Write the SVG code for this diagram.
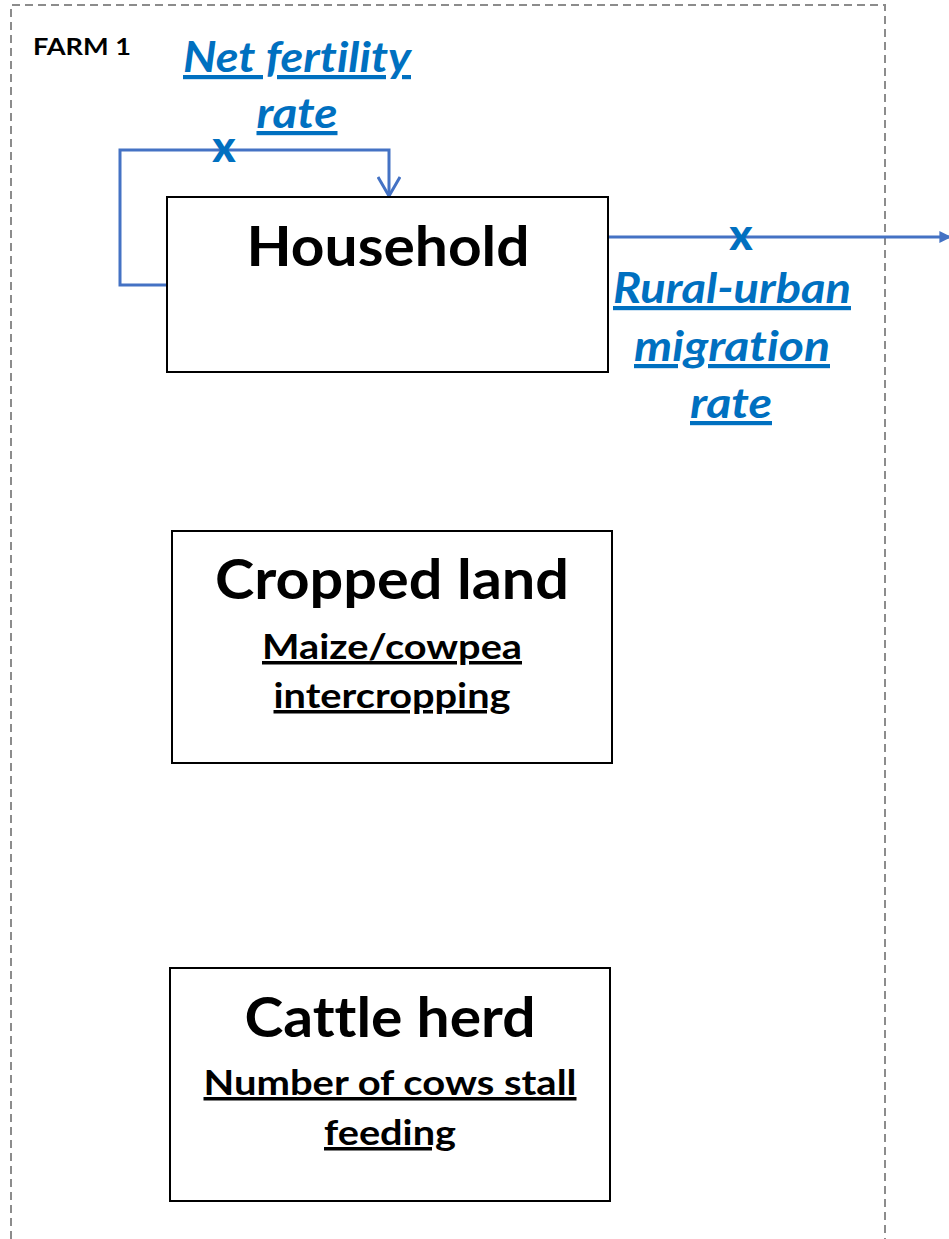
<svg xmlns="http://www.w3.org/2000/svg" width="949" height="1239" viewBox="0 0 949 1239">
<defs>
<style>
text{font-family:Lato,"Open Sans","Liberation Sans",sans-serif;font-weight:bold;font-variant-ligatures:none;font-feature-settings:"liga" 0}
.box{fill:#fff;stroke:#000;stroke-width:2}
.title{fill:#000;text-anchor:middle;font-size:56px}
.sub{fill:#000;text-anchor:middle;font-size:35px;text-decoration:underline}
.rate{font-style:italic;fill:#0070C0;text-anchor:middle;font-size:42px;text-decoration:underline}
.x{fill:#0070C0;text-anchor:middle;font-size:44px;font-weight:900}
.flow{fill:none;stroke:#4472C4;stroke-width:3}
</style>
<marker id="open" viewBox="0 0 24 24" refX="12" refY="22" markerWidth="24" markerHeight="24" markerUnits="userSpaceOnUse" orient="0">
<path d="M1,3 L12,22 L23,3" fill="none" stroke="#4472C4" stroke-width="3"/>
</marker>
<marker id="fill" viewBox="0 0 10 10" refX="8" refY="5" markerWidth="12" markerHeight="12" markerUnits="userSpaceOnUse" orient="auto">
<path d="M0,0 L10,5 L0,10 Z" fill="#4472C4"/>
</marker>
</defs>
<rect width="949" height="1239" fill="#fff"/>
<g id="farm-boundary">
<path d="M11,1239 L11,5 L885,5 L885,1239" fill="none" stroke="#8c8c8c" stroke-width="2" stroke-dasharray="8,5"/>
<text x="33" y="55" font-size="23" textLength="98" lengthAdjust="spacingAndGlyphs">FARM 1</text>
</g>
<g id="connectors">
<path class="flow" d="M167,285 L120,285 L120,150 L389,150 L389,196" marker-end="url(#open)"/>
<path class="flow" d="M608,237 L949,237" marker-end="url(#fill)"/>
<text class="x" x="224" y="162">x</text>
<text class="x" x="741" y="250">x</text>
<text class="rate" x="297" y="72" textLength="228" lengthAdjust="spacingAndGlyphs">Net fertility</text>
<text class="rate" x="297" y="128" textLength="81" lengthAdjust="spacingAndGlyphs">rate</text>
<text class="rate" x="732" y="303" textLength="238" lengthAdjust="spacingAndGlyphs">Rural-urban</text>
<text class="rate" x="732" y="361" textLength="196" lengthAdjust="spacingAndGlyphs">migration</text>
<text class="rate" x="731" y="418" textLength="82" lengthAdjust="spacingAndGlyphs">rate</text>
</g>
<g id="household">
<rect class="box" x="167" y="197" width="441" height="175"/>
<text class="title" x="388" y="266" textLength="283" lengthAdjust="spacingAndGlyphs">Household</text>
</g>
<g id="cropped-land">
<rect class="box" x="172" y="531" width="440" height="232"/>
<text class="title" x="392" y="599" textLength="354" lengthAdjust="spacingAndGlyphs">Cropped land</text>
<text class="sub" x="392" y="659" textLength="260" lengthAdjust="spacingAndGlyphs">Maize/cowpea</text>
<text class="sub" x="392" y="708" textLength="237" lengthAdjust="spacingAndGlyphs">intercropping</text>
</g>
<g id="cattle-herd">
<rect class="box" x="170" y="968" width="440" height="233"/>
<text class="title" x="390" y="1037" textLength="291" lengthAdjust="spacingAndGlyphs">Cattle herd</text>
<text class="sub" x="390" y="1095" textLength="373" lengthAdjust="spacingAndGlyphs">Number of cows stall</text>
<text class="sub" x="390" y="1145" textLength="132" lengthAdjust="spacingAndGlyphs">feeding</text>
</g>
</svg>
